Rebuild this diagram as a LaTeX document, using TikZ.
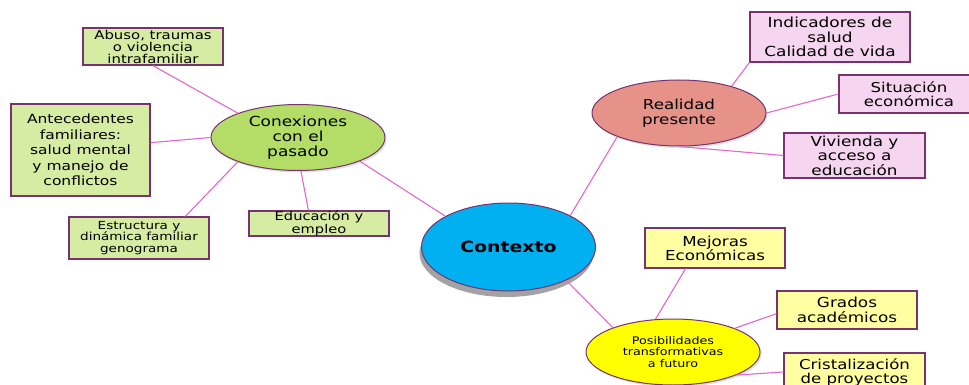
\documentclass[tikz,border=0pt]{standalone}
\usepackage{fontspec}
\setmainfont{DejaVu Sans}[FakeStretch=1.22]
\usetikzlibrary{shapes.geometric,shadows}

\definecolor{plum}{RGB}{120,50,110}
\definecolor{linkpink}{RGB}{226,104,204}
\definecolor{ctxblue}{RGB}{0,176,240}
\definecolor{pastgreen}{RGB}{180,221,104}
\definecolor{pastbox}{RGB}{214,236,163}
\definecolor{nowred}{RGB}{231,146,136}
\definecolor{nowbox}{RGB}{246,213,240}
\definecolor{futyellow}{RGB}{255,255,0}
\definecolor{futbox}{RGB}{255,254,160}

\newcommand\fsz[2]{\fontsize{#1}{#2}\selectfont}

\tikzset{
  topic/.style={ellipse, draw=plum, line width=1pt, minimum width=174pt, minimum height=66pt,
    inner sep=0pt, align=center,
    drop shadow={shadow xshift=1.5pt, shadow yshift=-2pt, opacity=.25}},
  leaf/.style={rectangle, draw=plum, line width=1.2pt, minimum width=140pt, inner sep=0pt, align=center},
  link/.style={linkpink, line width=1.1pt},
}

\begin{document}
\begin{tikzpicture}[x=1pt, y=-1pt]
    \useasboundingbox (0,0) rectangle (969,385);
    \clip (0,0) rectangle (969,385);

    % Centre
    \node (ctx) at (508.5, 247) [ellipse, draw=plum, line width=1pt, fill=ctxblue,
        minimum width=174pt, minimum height=88pt, inner sep=0pt,
        drop shadow={shadow xshift=-2pt, shadow yshift=-6pt, fill=black!60, opacity=.6},
        font=\fsz{15.5}{18}\bfseries] {Contexto};

    % Left: links to the past
    \node (conex) at (298, 137.5) [topic, fill=pastgreen, font=\fsz{13.9}{15}] {Conexiones\\con el\\pasado};
    \node (abuso) at (153, 46.5) [leaf, fill=pastbox, minimum height=37pt, font=\fsz{12.2}{12}] {Abuso, traumas\\o violencia\\intrafamiliar};
    \node (antec) at (80.5, 150) [leaf, fill=pastbox, minimum width=139pt, minimum height=92pt, font=\fsz{12.7}{15.5}] {Antecedentes\\familiares:\\salud mental\\y manejo de\\conflictos};
    \node (estr) at (139, 238) [leaf, fill=pastbox, minimum height=42pt, font=\fsz{11.1}{11.7}] {Estructura y\\dinámica familiar\\genograma};
    \node (edu) at (319, 223.5) [leaf, fill=pastbox, minimum height=25pt, font=\fsz{12}{12.5}] {Educación y\\empleo};

    % Top right: present reality
    \node (real) at (679, 113) [topic, fill=nowred, font=\fsz{13.7}{14.5}] {Realidad\\presente};
    \node (ind) at (830, 37) [leaf, fill=nowbox, minimum width=160pt, minimum height=50pt, font=\fsz{13.9}{14.5}] {Indicadores de\\salud\\Calidad de vida};
    \node (sit) at (909, 94) [leaf, fill=nowbox, minimum height=38pt, font=\fsz{13.6}{14}] {Situación\\económica};
    \node (viv) at (854.5, 155.5) [leaf, fill=nowbox, minimum width=141pt, minimum height=45pt, font=\fsz{13.8}{14.5}] {Vivienda y\\acceso a\\educación};

    % Bottom right: future
    \node (pos) at (673, 352) [topic, fill=futyellow, font=\fsz{10.4}{11.5}] {Posibilidades\\transformativas\\a futuro};
    \node (mej) at (715, 248) [leaf, fill=futbox, minimum height=40pt, font=\fsz{13.7}{14}] {Mejoras\\Económicas};
    \node (grad) at (847, 310) [leaf, fill=futbox, minimum height=38pt, font=\fsz{13.8}{15}] {Grados\\académicos};
    \node (cris) at (854.5, 372) [leaf, fill=futbox, minimum width=141pt, minimum height=38pt, font=\fsz{13.6}{14}] {Cristalización\\de proyectos};

    % Connectors
    \draw[link] (ctx.154) -- (conex.-21);
    \draw[link] (ctx.27.5) -- (real.201.5);
    \draw[link] (ctx.-30) -- (pos.158.5);

    \draw[link] (conex.158.7) -- (abuso.south);
    \draw[link] (conex.west) -- (antec.6);
    \draw[link] (conex.202) -- (estr.25);
    \draw[link] (conex.-85) -- (edu.129);

    \draw[link] (real.27) -- (ind.south west);
    \draw[link] (real.east) -- (sit.west);
    \draw[link] (real.south) -- (viv.west);

    \draw[link] (pos.118) -- (mej.-145);
    \draw[link] (pos.21) -- (grad.183);
    \draw[link] (pos.-20) -- (cris.west);

\end{tikzpicture}
\end{document}
